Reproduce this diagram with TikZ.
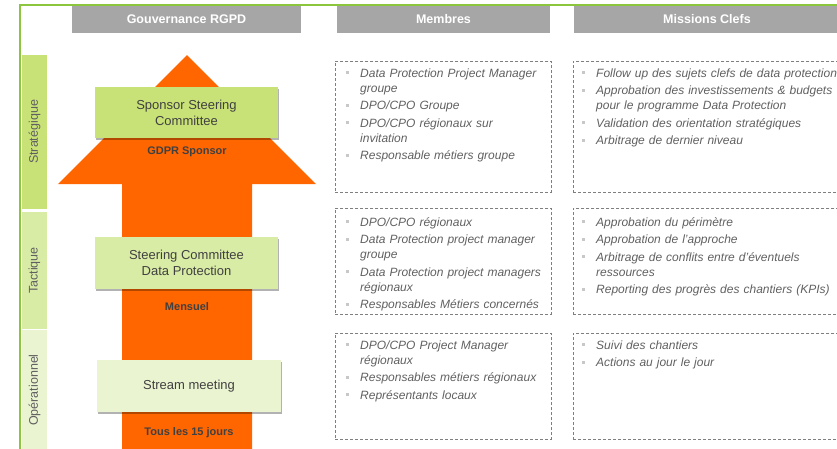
\documentclass[tikz,border=0pt]{standalone}
\usepackage{fontspec}
\setmainfont{Liberation Sans}
\usepackage{xcolor}
\usetikzlibrary{positioning,shadows}

\definecolor{cadre}{HTML}{8CC63F}
\definecolor{grisentete}{HTML}{A6A6A6}
\definecolor{fleche}{HTML}{FF6600}
\definecolor{vertfonce}{HTML}{C9E277}
\definecolor{vertmoyen}{HTML}{D9ECA6}
\definecolor{vertclair}{HTML}{EAF4D1}
\definecolor{gristexte}{HTML}{606060}
\definecolor{grisboite}{HTML}{404040}
\definecolor{puce}{HTML}{C8C8C8}
\definecolor{pointille}{HTML}{7F7F7F}

% puce carree grise devant chaque ligne de liste
\newcommand{\itm}{\par\leftskip=14pt\parskip=2.5pt\hspace*{-14pt}\makebox[14pt][l]{\textcolor{puce}{\rule[3pt]{3pt}{3pt}}}}

\begin{document}
\begin{tikzpicture}[x=1pt,y=-1pt,
    bandeau/.style={fill=grisentete, text=white, inner sep=0pt, font=\fontsize{12.5}{15}\selectfont\bfseries},
    niveau/.style={rotate=90, inner sep=0pt, text=gristexte, font=\fontsize{12.5}{15}\selectfont},
    comite/.style={inner sep=0pt, align=center, text=grisboite, font=\fontsize{13}{16}\selectfont,
        drop shadow={shadow xshift=0.6pt, shadow yshift=-1.5pt, opacity=0.3, fill=black}},
    frequence/.style={inner sep=0pt, text=grisboite, font=\fontsize{11}{13}\selectfont\bfseries},
    boite/.style={draw=pointille, line width=0.8pt, dash pattern=on 3pt off 2pt, anchor=north west, inner sep=0pt},
    liste/.style={anchor=north west, inner sep=0pt, align=left, text=gristexte, font=\fontsize{12}{15}\selectfont\itshape}]

    \useasboundingbox (0,0) rectangle (837,448);
    \clip (0,0) rectangle (837,448);

    \draw[cadre, line width=2pt] (20,460) -- (20,5) -- (850,5);

    \node[bandeau, minimum width=229, minimum height=27] (gouvernance) at (186.5,19.5) {Gouvernance RGPD};
    \node[bandeau, minimum width=213, minimum height=27] (membres) at (443.5,19.5) {Membres};
    \node[bandeau, minimum width=266, minimum height=27] (missions) at (707,19.5) {Missions Clefs};

    \node[niveau, fill=vertfonce, minimum width=154, minimum height=25] (strategique) at (34.5,132) {Stratégique};
    \node[niveau, fill=vertmoyen, minimum width=117, minimum height=25] (tactique) at (34.5,270.5) {Tactique};
    \node[niveau, fill=vertclair, minimum width=120, minimum height=25] (operationnel) at (34.5,390) {Opérationnel};

    \fill[fleche] (122,460) -- (122,184) -- (58,184) -- (187,55) -- (316,184) -- (252,184) -- (252,460) -- cycle;

    \node[comite, fill=vertfonce, minimum width=183, minimum height=51] (sponsor) at (186.5,112.5) {Sponsor Steering\\Committee};
    \node[comite, fill=vertmoyen, minimum width=183, minimum height=52] (steering) at (186.5,263) {Steering Committee\\Data Protection};
    \node[comite, fill=vertclair, minimum width=184, minimum height=52] (stream) at (189,386) {Stream meeting};

    \node[frequence] (gdpr) at (187,152) {GDPR Sponsor};
    \node[frequence] (mensuel) at (187,307) {Mensuel};
    \node[frequence] (quinzaine) at (189,433) {Tous les 15 jours};

    \node[boite, minimum width=216, minimum height=131] (membres1) at (335,61) {};
    \node[boite, minimum width=216, minimum height=106] (membres2) at (335,208) {};
    \node[boite, minimum width=216, minimum height=106] (membres3) at (335,333) {};
    \node[boite, minimum width=280, minimum height=131] (missions1) at (573,61) {};
    \node[boite, minimum width=280, minimum height=106] (missions2) at (573,208) {};
    \node[boite, minimum width=280, minimum height=106] (missions3) at (573,333) {};

    \node[liste, text width=205] (listemembres1) at (346,59.3) {\itm Data Protection Project Manager\newline groupe
        \itm DPO/CPO Groupe
        \itm DPO/CPO régionaux sur\newline invitation
        \itm Responsable métiers groupe\par};
    \node[liste, text width=205] (listemembres2) at (346,208.3) {\itm DPO/CPO régionaux
        \itm Data Protection project manager\newline groupe
        \itm Data Protection project managers\newline régionaux
        \itm Responsables Métiers concernés\par};
    \node[liste, text width=205] (listemembres3) at (346,331.3) {\itm DPO/CPO Project Manager\newline régionaux
        \itm Responsables métiers régionaux
        \itm Représentants locaux\par};

    \node[liste, text width=270] (listemissions1) at (582,59.3) {\itm Follow up des sujets clefs de data protection
        \itm Approbation des investissements \& budgets\newline pour le programme Data Protection
        \itm Validation des orientation stratégiques
        \itm Arbitrage de dernier niveau\par};
    \node[liste, text width=270] (listemissions2) at (582,208.3) {\itm Approbation du périmètre
        \itm Approbation de l’approche
        \itm Arbitrage de conflits entre d’éventuels\newline ressources
        \itm Reporting des progrès des chantiers (KPIs)\par};
    \node[liste, text width=270] (listemissions3) at (582,331.3) {\itm Suivi des chantiers
        \itm Actions au jour le jour\par};
\end{tikzpicture}
\end{document}
